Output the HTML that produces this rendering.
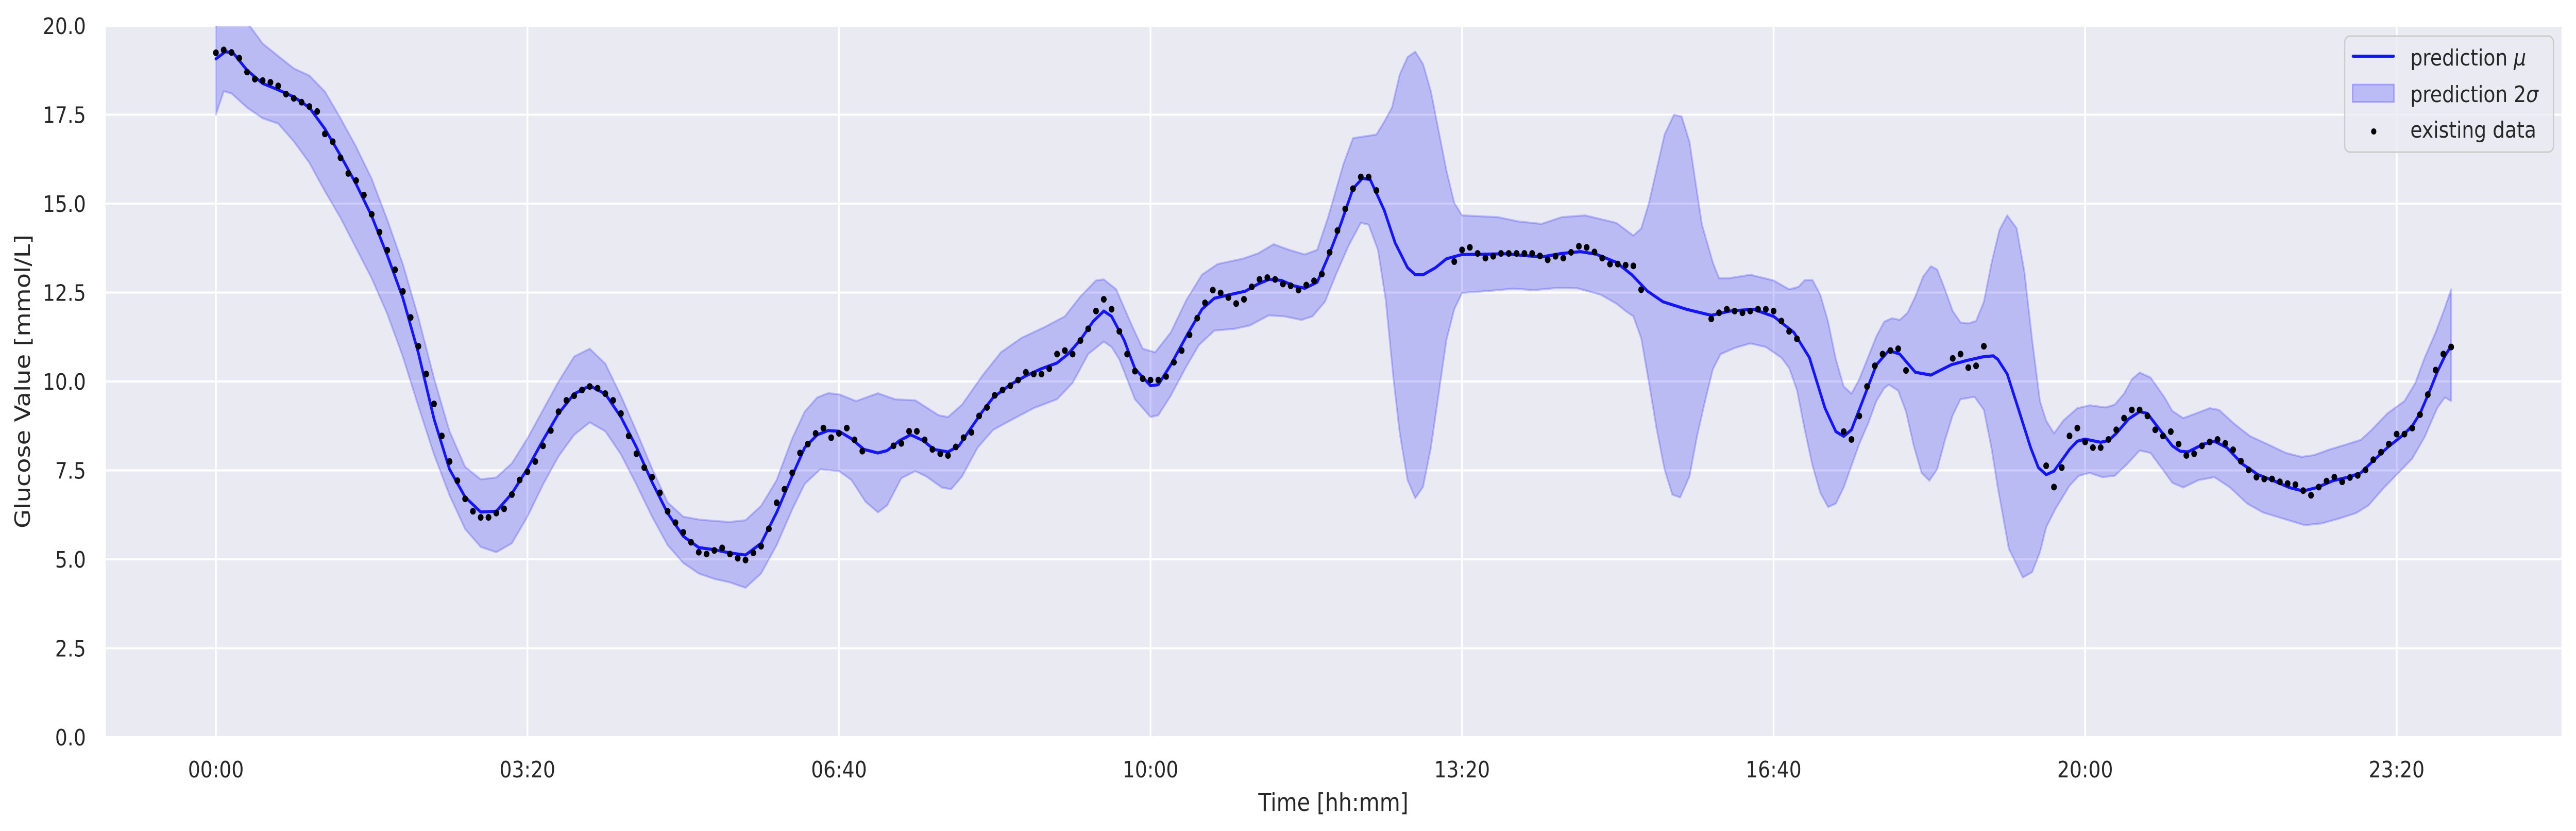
<!DOCTYPE html>
<html><head><meta charset="utf-8"><style>
html,body{margin:0;padding:0;background:#fff;width:100vw;height:100vh;overflow:hidden;}
svg{display:block;width:100vw;height:100vh;font-family:"DejaVu Sans","Liberation Sans",sans-serif;}
</style></head><body>
<svg id="chart" viewBox="0 0 5846 1612" preserveAspectRatio="none" xmlns="http://www.w3.org/2000/svg">
<defs><clipPath id="plotclip"><rect x="240" y="50" width="5573" height="1380"/></clipPath></defs>
<rect x="240" y="50" width="5573" height="1380" fill="#EAEAF2"/>
<g id="grid"></g>
<g id="series" clip-path="url(#plotclip)"></g>
<g id="yticks"></g>
<g id="xticks"></g>
<text x="3026" y="1573" font-size="48" fill="#262626" text-anchor="middle">Time [hh:mm]</text>
<text x="0" y="0" font-size="48" fill="#262626" text-anchor="middle" transform="translate(68,740) rotate(-90)">Glucose Value [mmol/L]</text>
<g>
<rect x="5321" y="70" width="474" height="225" rx="12" fill="#EAEAF2" fill-opacity="0.8" stroke="#CCCCCC" stroke-width="3"/>
<line x1="5340" y1="109" x2="5432" y2="109" stroke="#1414FF" stroke-width="6" stroke-linecap="round"/>
<rect x="5339" y="164" width="94" height="34" fill="rgba(0,0,255,0.2)" stroke="rgba(0,0,255,0.25)" stroke-width="3"/>
<circle cx="5387" cy="255" r="6" fill="#000"/>
<text x="5470" y="127" font-size="44" fill="#262626">prediction <tspan font-style="italic">μ</tspan></text>
<text x="5470" y="198" font-size="44" fill="#262626">prediction 2<tspan font-style="italic">σ</tspan></text>
<text x="5470" y="267" font-size="44" fill="#262626">existing data</text>
</g>
</svg>
<script>
const yTicks=[0,2.5,5,7.5,10,12.5,15,17.5,20];
const xTicks=[0,200,400,600,800,1000,1200,1400];
const xTickLabels=["00:00","03:20","06:40","10:00","13:20","16:40","20:00","23:20"];
const meanT=[0,6,11,20,30,40,50,60,70,80,90,100,110,120,130,140,150,160,170,180,190,200,210,220,230,240,250,260,270,280,290,300,310,320,330,340,350,360,370,378,386,393,400,408,416,425,431,439,446,454,461,470,477,484,492,499,510,520,530,540,547,555,563,570,575,583,590,600,605,613,623,633,641,651,661,669,676,684,692,699,707,714,722,730,736,741,750,757,765,770,775,783,790,800,816,828,838,851,864,876,886,899,909,919,929,944,960,972,987,1000,1013,1023,1033,1040,1045,1050,1058,1066,1074,1081,1091,1101,1114,1124,1134,1141,1144,1150,1157,1165,1170,1175,1180,1190,1195,1200,1210,1215,1220,1228,1235,1240,1248,1256,1261,1266,1276,1283,1291,1301,1311,1321,1331,1340,1349,1359,1369,1377,1384,1394,1404,1410,1415,1421,1426,1431,1435];
const meanV=[19.07,19.27,19.24,18.75,18.38,18.2,18.0,17.7,17.1,16.35,15.55,14.65,13.55,12.35,10.8,8.95,7.53,6.75,6.33,6.35,6.85,7.55,8.35,9.1,9.65,9.88,9.65,9.0,8.15,7.17,6.3,5.65,5.33,5.27,5.18,5.12,5.45,6.32,7.35,8.14,8.5,8.62,8.6,8.39,8.09,7.99,8.06,8.34,8.5,8.34,8.09,8.02,8.19,8.64,9.15,9.55,9.91,10.16,10.36,10.52,10.77,11.17,11.68,11.98,11.83,11.17,10.36,9.88,9.91,10.47,11.27,12.03,12.34,12.44,12.54,12.74,12.87,12.84,12.69,12.62,12.79,13.5,14.41,15.42,15.71,15.68,14.82,13.9,13.2,13.0,13.0,13.2,13.45,13.57,13.58,13.59,13.55,13.5,13.6,13.65,13.58,13.35,13.0,12.54,12.24,12.03,11.86,11.98,12.03,11.83,11.38,10.67,9.25,8.59,8.46,8.64,9.55,10.47,10.87,10.77,10.26,10.18,10.47,10.59,10.69,10.72,10.62,10.21,9.25,8.14,7.58,7.38,7.48,8.09,8.32,8.38,8.29,8.34,8.54,8.95,9.15,9.1,8.64,8.19,8.04,8.02,8.24,8.32,8.14,7.68,7.38,7.21,7.02,6.92,7.02,7.21,7.31,7.43,7.73,8.14,8.49,8.75,9.1,9.71,10.26,10.72,11.0];
const upperT=[0,10,20,30,40,50,60,70,80,90,100,110,120,130,140,150,160,170,180,190,200,210,220,230,240,250,260,270,280,290,300,310,320,330,340,350,360,370,378,386,393,400,411,425,436,449,464,470,479,492,504,517,532,545,555,565,570,578,588,595,603,613,623,633,643,659,669,679,689,699,707,714,724,730,745,750,755,760,765,770,775,780,785,790,795,800,823,836,851,864,879,899,910,915,920,930,936,941,946,954,961,965,971,985,1000,1010,1016,1020,1025,1030,1035,1040,1045,1050,1055,1066,1071,1076,1081,1086,1091,1096,1101,1105,1110,1115,1120,1125,1130,1135,1140,1145,1150,1156,1161,1166,1171,1175,1180,1186,1195,1203,1213,1219,1225,1230,1235,1242,1251,1256,1263,1271,1280,1286,1296,1306,1316,1329,1339,1347,1357,1367,1377,1384,1394,1405,1412,1418,1425,1431,1435];
const upperV=[20.5,20.5,20.1,19.5,19.15,18.8,18.6,18.15,17.4,16.6,15.7,14.55,13.3,11.8,10.1,8.6,7.6,7.25,7.3,7.7,8.4,9.2,10.0,10.7,10.92,10.5,9.6,8.6,7.55,6.6,6.2,6.12,6.08,6.05,6.1,6.5,7.23,8.4,9.15,9.55,9.67,9.64,9.45,9.67,9.5,9.47,9.05,9.0,9.35,10.16,10.82,11.22,11.53,11.83,12.39,12.84,12.87,12.59,11.58,10.92,10.82,11.38,12.29,13.0,13.3,13.45,13.6,13.86,13.7,13.57,13.7,14.62,16.13,16.84,16.94,17.3,17.7,18.63,19.12,19.27,18.92,18.16,17.04,15.93,15.02,14.67,14.62,14.5,14.43,14.62,14.67,14.46,14.1,14.3,15.02,16.94,17.5,17.45,16.74,14.41,13.35,12.9,12.9,13.0,12.84,12.59,12.66,12.85,12.85,12.44,11.68,10.62,9.86,9.66,10.06,11.27,11.68,11.78,11.73,11.93,12.39,12.95,13.24,13.15,12.59,11.98,11.66,11.63,11.7,12.24,13.35,14.26,14.67,14.31,13.1,11.17,9.45,8.9,8.54,8.9,9.25,9.33,9.27,9.35,9.66,10.06,10.25,10.11,9.55,9.17,8.97,9.1,9.25,9.2,8.8,8.46,8.26,7.99,7.88,7.93,8.09,8.22,8.36,8.64,9.1,9.45,9.96,10.67,11.38,12.08,12.59];
const lowerT=[0,5,10,20,30,40,50,60,70,80,90,100,110,120,130,140,150,160,170,180,190,200,210,220,230,240,250,260,270,280,290,300,310,320,330,340,350,360,370,378,388,400,408,417,425,431,440,449,456,466,472,479,489,499,512,525,540,550,560,570,575,580,590,600,605,613,623,631,641,654,664,676,686,697,704,712,719,727,735,740,746,751,756,760,765,770,775,780,785,790,795,800,816,833,846,861,874,889,899,905,910,915,920,925,930,935,940,946,951,956,961,966,975,985,995,1005,1010,1015,1020,1025,1030,1035,1040,1045,1050,1055,1061,1066,1071,1074,1080,1085,1090,1095,1100,1105,1110,1115,1120,1129,1135,1140,1144,1146,1151,1156,1160,1166,1171,1175,1181,1190,1196,1203,1211,1219,1227,1235,1242,1248,1256,1263,1273,1283,1293,1304,1314,1326,1341,1352,1364,1374,1382,1392,1400,1410,1418,1426,1431,1435];
const lowerV=[17.5,18.16,18.1,17.7,17.4,17.25,16.75,16.15,15.35,14.6,13.75,12.9,11.9,10.7,9.3,7.95,6.8,5.85,5.35,5.2,5.45,6.2,7.1,7.9,8.5,8.85,8.6,7.95,7.1,6.2,5.4,4.9,4.6,4.45,4.35,4.2,4.6,5.4,6.4,7.12,7.53,7.48,7.23,6.62,6.32,6.52,7.28,7.48,7.33,7.02,6.97,7.33,8.14,8.64,8.95,9.25,9.5,9.96,10.77,11.12,10.97,10.62,9.5,9.0,9.05,9.6,10.42,11.02,11.43,11.48,11.58,11.86,11.83,11.73,11.83,12.24,13.0,13.8,14.46,14.41,13.7,12.29,10.06,8.54,7.23,6.72,7.04,8.14,9.66,11.17,12.03,12.49,12.54,12.61,12.57,12.63,12.62,12.44,12.19,11.98,11.83,11.22,9.96,8.64,7.53,6.82,6.74,7.33,8.49,9.45,10.34,10.77,10.94,11.07,10.97,10.67,10.38,9.76,8.64,7.63,6.87,6.47,6.57,7.02,7.63,8.24,8.85,9.45,9.81,9.91,9.74,9.15,8.19,7.43,7.21,7.53,8.34,9.05,9.5,9.57,9.2,8.1,7.0,6.52,5.3,4.85,4.49,4.64,5.2,5.9,6.42,7.07,7.35,7.43,7.31,7.35,7.68,8.06,7.99,7.63,7.15,7.02,7.23,7.31,7.02,6.57,6.32,6.16,5.96,6.01,6.16,6.3,6.52,7.02,7.38,7.83,8.44,9.25,9.55,9.45];
const dotT=[0,5,10,15,20,25,30,35,40,45,50,55,60,65,70,75,80,85,90,95,100,105,110,115,120,125,130,135,140,145,150,155,160,165,170,175,180,185,190,195,200,205,210,215,220,225,230,235,240,245,250,255,260,265,270,275,280,285,290,295,300,305,310,315,320,325,330,335,340,345,350,355,360,365,370,375,380,385,390,395,400,405,410,415,435,440,445,450,455,460,465,470,475,480,485,490,495,500,505,510,515,520,525,530,535,540,545,550,555,560,565,570,575,580,585,590,595,600,605,610,615,620,625,630,635,640,645,650,655,660,665,670,675,680,685,690,695,700,705,710,715,720,725,730,735,740,745,795,800,805,810,815,820,825,830,835,840,845,850,855,860,865,870,875,880,885,890,895,900,905,910,915,960,965,970,975,980,985,990,995,1000,1005,1010,1015,1045,1050,1055,1060,1065,1070,1075,1080,1085,1115,1120,1125,1130,1135,1175,1180,1185,1190,1195,1200,1205,1210,1215,1220,1225,1230,1235,1240,1245,1250,1255,1260,1265,1270,1275,1280,1285,1290,1295,1300,1305,1310,1315,1320,1325,1330,1335,1340,1345,1350,1355,1360,1365,1370,1375,1380,1385,1390,1395,1400,1405,1410,1415,1420,1425,1430,1435];
const dotV=[19.24,19.32,19.25,19.09,18.7,18.5,18.46,18.41,18.31,18.08,17.96,17.85,17.73,17.59,16.96,16.74,16.29,15.85,15.65,15.24,14.7,14.2,13.69,13.14,12.53,11.8,10.99,10.21,9.37,8.47,7.75,7.21,6.7,6.35,6.18,6.18,6.3,6.42,6.82,7.23,7.46,7.75,8.19,8.62,9.15,9.47,9.6,9.76,9.86,9.81,9.66,9.47,9.1,8.47,7.97,7.58,7.31,6.87,6.35,6.03,5.76,5.48,5.2,5.15,5.25,5.32,5.15,5.03,4.98,5.18,5.37,5.86,6.59,6.97,7.43,7.99,8.24,8.54,8.69,8.42,8.54,8.69,8.36,8.04,8.19,8.26,8.6,8.6,8.36,8.09,7.97,7.92,8.16,8.42,8.57,9.03,9.27,9.61,9.76,9.88,10.04,10.26,10.21,10.21,10.36,10.77,10.87,10.77,11.15,11.48,11.98,12.31,12.03,11.41,10.77,10.29,10.08,10.04,10.04,10.14,10.54,10.87,11.31,11.78,12.21,12.57,12.49,12.36,12.19,12.31,12.66,12.87,12.92,12.87,12.74,12.69,12.57,12.71,12.83,13.02,13.63,14.24,14.85,15.42,15.75,15.75,15.37,13.37,13.7,13.77,13.6,13.47,13.52,13.6,13.6,13.6,13.6,13.6,13.53,13.42,13.52,13.47,13.63,13.8,13.77,13.64,13.47,13.3,13.3,13.27,13.25,12.58,11.76,11.93,12.03,11.98,11.93,11.98,12.03,12.03,11.98,11.7,11.41,11.2,8.59,8.37,9.03,9.86,10.44,10.77,10.87,10.92,10.31,10.65,10.77,10.39,10.44,10.99,7.63,7.03,7.58,8.47,8.69,8.3,8.14,8.14,8.37,8.64,8.97,9.2,9.2,9.03,8.64,8.47,8.59,8.24,7.92,7.97,8.19,8.3,8.37,8.26,8.08,7.76,7.51,7.31,7.26,7.26,7.18,7.13,7.1,6.93,6.8,7.03,7.2,7.31,7.18,7.3,7.36,7.51,7.8,8.01,8.24,8.52,8.52,8.69,9.07,9.63,10.32,10.77,10.97];

const NS="http://www.w3.org/2000/svg";
const X0=240,X1=5813,Y0=1430,Y1=50;
const xDom=[-70.72,1505.8],yDom=[0,20];
function xs(t){return X0+(t-xDom[0])/(xDom[1]-xDom[0])*(X1-X0);}
function ys(v){return Y0-(v-yDom[0])/(yDom[1]-yDom[0])*(Y0-Y1);}
function mk(tag,attrs,parent){const e=document.createElementNS(NS,tag);for(const k in attrs)e.setAttribute(k,attrs[k]);parent.appendChild(e);return e;}

const grid=document.getElementById('grid');
const yg=document.getElementById('yticks');
const xg=document.getElementById('xticks');
yTicks.forEach(v=>{
  const l=mk('line',{x1:X0,x2:X1,y1:ys(v),y2:ys(v),stroke:'#FFFFFF','stroke-width':4},grid);
  
  
  const t=mk('text',{x:195,y:ys(v)+16,'font-size':44,fill:'#262626','text-anchor':'end'},yg);
  t.textContent=v.toFixed(1);
  
  
});
xTicks.forEach((m,i)=>{
  const l=mk('line',{x1:xs(m),x2:xs(m),y1:Y1,y2:Y0,stroke:'#FFFFFF','stroke-width':4},grid);
  
  
  const t=mk('text',{x:xs(m),y:1508,'font-size':44,fill:'#262626','text-anchor':'middle'},xg);
  t.textContent=xTickLabels[i];
  
  
});

const sg=document.getElementById('series');
let pts=[];
for(let i=0;i<upperT.length;i++)pts.push(xs(upperT[i]).toFixed(1)+','+ys(upperV[i]).toFixed(1));
for(let i=lowerT.length-1;i>=0;i--)pts.push(xs(lowerT[i]).toFixed(1)+','+ys(lowerV[i]).toFixed(1));
const band=mk('polygon',{points:pts.join(' '),fill:'rgba(0,0,255,0.2)',stroke:'rgba(0,0,255,0.2)','stroke-width':4,'stroke-linejoin':'round'},sg);



let mp=[];
for(let i=0;i<meanT.length;i++)mp.push(xs(meanT[i]).toFixed(1)+','+ys(meanV[i]).toFixed(1));
const line=mk('polyline',{points:mp.join(' '),fill:'none',stroke:'#1414FF','stroke-width':6,'stroke-linejoin':'round','stroke-linecap':'round'},sg);



for(let i=0;i<dotT.length;i++){
  const c=mk('circle',{cx:xs(dotT[i]).toFixed(1),cy:ys(dotV[i]).toFixed(1),r:6.5,fill:'#000000'},sg);
  
  
}
</script>
</body></html>
